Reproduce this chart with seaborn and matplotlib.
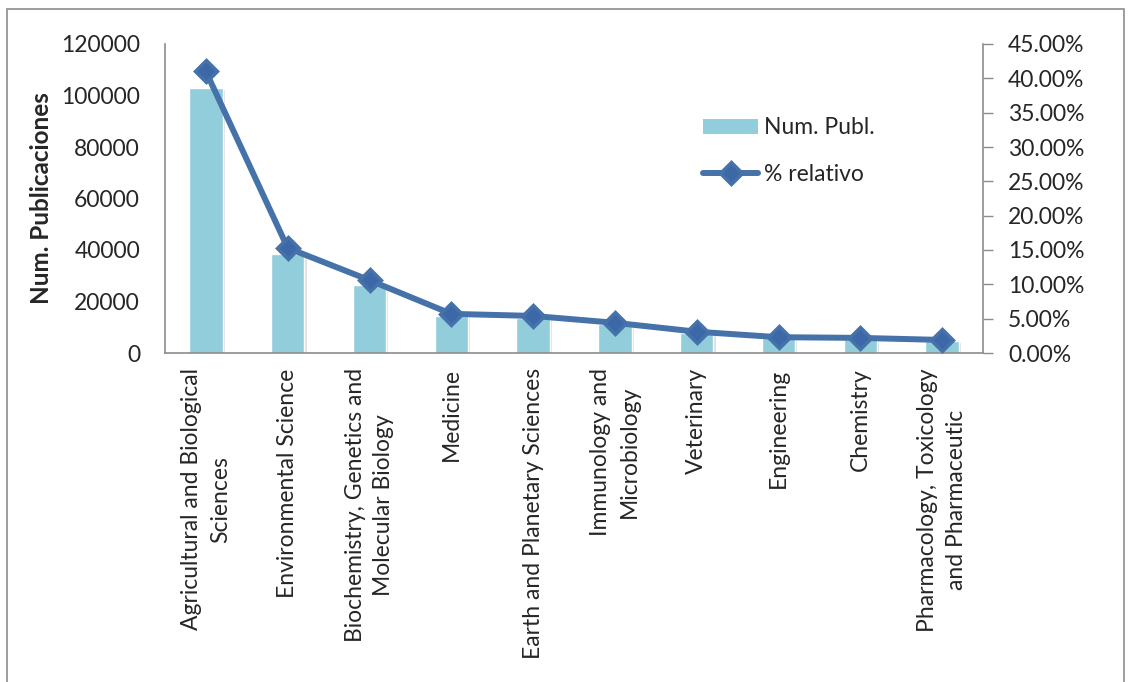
import matplotlib
matplotlib.use("Agg")
import matplotlib.pyplot as plt
import matplotlib.patheffects as pe
from matplotlib.lines import Line2D
from matplotlib.patches import Patch, Rectangle
from matplotlib.ticker import FuncFormatter, MultipleLocator
import seaborn as sns
import pandas as pd

categories = [
    "Agricultural and Biological\nSciences",
    "Environmental Science",
    "Biochemistry, Genetics and\nMolecular Biology",
    "Medicine",
    "Earth and Planetary Sciences",
    "Immunology and\nMicrobiology",
    "Veterinary",
    "Engineering",
    "Chemistry",
    "Pharmacology, Toxicology\nand Pharmaceutic",
]
num_publ = [103000, 38600, 26500, 14300, 13600, 11100, 7800, 5800, 5600, 4700]
pct_relativo = [41.0, 15.3, 10.6, 5.7, 5.4, 4.4, 3.1, 2.3, 2.2, 1.9]

df = pd.DataFrame({"cat": categories, "num": num_publ, "pct": pct_relativo})

sns.set_style("white")
plt.rcParams["font.family"] = ["Lato", "DejaVu Sans"]

BAR = "#92CDDC"
LINE = "#4672AA"
AXIS = "#8C8C8C"
FS = 16.5

fig = plt.figure(figsize=(11.31, 6.82), dpi=100)
ax = fig.add_axes([165 / 1131, 1 - 353 / 682, (983 - 165) / 1131, (353 - 44) / 682])

sns.barplot(data=df, x="cat", y="num", color=BAR, width=0.41, ax=ax,
            saturation=1, zorder=2)
for p in ax.patches:
    p.set_path_effects([pe.SimplePatchShadow(offset=(1.5, -1.5), shadow_rgbFace="#808080", alpha=0.25),
                        pe.Normal()])
ax.set_ylim(0, 120000)
ax.yaxis.set_major_locator(MultipleLocator(20000))
ax.set_xlabel("")
ax.set_ylabel("Num. Publicaciones", fontsize=17.5, fontweight="bold", labelpad=6)
ax.tick_params(axis="y", length=0, pad=18, labelsize=FS)
ax.tick_params(axis="x", length=0, pad=11, labelsize=FS)
for lbl in ax.get_xticklabels():
    lbl.set_rotation(90)
    lbl.set_ha("center")
    lbl.set_va("top")
    lbl.set_multialignment("center")
    lbl.set_linespacing(1.45)
for side in ["top", "right"]:
    ax.spines[side].set_visible(False)
for side in ["left", "bottom"]:
    ax.spines[side].set_color(AXIS)
    ax.spines[side].set_linewidth(1.2)

ax2 = ax.twinx()
ax2.plot(range(len(categories)), pct_relativo, color=LINE, lw=4.3,
         marker="D", markersize=11.5, markerfacecolor="#3D68A8",
         markeredgecolor=LINE, markeredgewidth=2.5, zorder=3)
ax2.set_ylim(0, 45)
ax2.yaxis.set_major_locator(MultipleLocator(5))
ax2.yaxis.set_major_formatter(FuncFormatter(lambda v, _: f"{v:.2f}%"))
ax2.tick_params(axis="y", length=7, width=1, color=AXIS, pad=11, labelsize=FS)
for side in ["top", "left", "bottom"]:
    ax2.spines[side].set_visible(False)
ax2.spines["right"].set_color(AXIS)
ax2.spines["right"].set_linewidth(1.2)
ax.set_xlim(-0.5, len(categories) - 0.5)

handles = [
    Patch(facecolor=BAR, edgecolor="none", label="Num. Publ."),
    Line2D([0], [0], color=LINE, lw=4.3, marker="D", markersize=11.5,
           markerfacecolor="#3D68A8", markeredgecolor=LINE, markeredgewidth=2.5,
           label="% relativo"),
]
ax2.legend(handles=handles, loc="upper left", bbox_to_anchor=(0.647, 0.792),
           frameon=False, fontsize=FS, handlelength=2.4, handleheight=0.6,
           labelspacing=1.1, handletextpad=0.25, borderaxespad=0)

fig.patches.append(Rectangle((7 / 1131, -0.05), (1124 - 7) / 1131, 1.05 - 9 / 682,
                             transform=fig.transFigure, fill=False,
                             edgecolor="#8C8C8C", lw=1.2))

fig.savefig("out.png", dpi=100)
